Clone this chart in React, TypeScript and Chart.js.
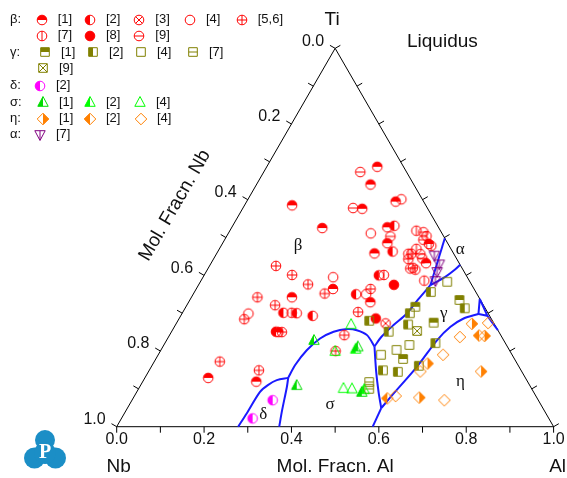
import React, { useEffect, useRef } from 'react';
import { Chart, registerables } from 'chart.js';

Chart.register(...registerables);

// ---- experimental compositions: [x(Al), x(Nb)] ----
const BETA_1 = [[0.253,0.060],[0.261,0.099],[0.341,0.064],[0.274,0.150],[0.109,0.306],[0.208,0.267],[0.356,0.117],[0.377,0.138],[0.361,0.181],[0.313,0.323],[0.230,0.428],[0.416,0.255],[0.245,0.505],[0.145,0.726],[0.260,0.621],[0.473,0.044],[0.492,0.076]];
const BETA_2 = [[0.370,0.099],[0.400,0.137],[0.400,0.200],[0.373,0.277],[0.231,0.468],[0.262,0.438],[0.302,0.405],[0.239,0.510]];
const BETA_3 = [[0.479,0.248]];
const BETA_4 = [[0.351,0.048],[0.326,0.163],[0.298,0.307],[0.396,0.254],[0.152,0.549]];
const BETA_56 = [[0.152,0.423],[0.201,0.398],[0.250,0.374],[0.300,0.348],[0.151,0.507],[0.202,0.477],[0.150,0.566],[0.399,0.237],[0.401,0.296],[0.400,0.358],[0.253,0.497],[0.401,0.399],[0.150,0.678],[0.251,0.600],[0.446,0.097],[0.446,0.111],[0.468,0.112]];
const BETA_7 = [[0.250,0.449],[0.411,0.188],[0.427,0.055],[0.457,0.039],[0.481,0.041],[0.451,0.079],[0.439,0.104],[0.476,0.109],[0.511,0.103]];
const BETA_8 = [[0.447,0.178],[0.450,0.264]];
const BETA_9 = [[0.221,0.106],[0.252,0.170],[0.375,0.122],[0.445,0.041],[0.455,0.051],[0.467,0.077],[0.463,0.119],[0.477,0.078]];
const GAMMA_1 = [[0.525,0.158],[0.617,0.048],[0.588,0.137],[0.566,0.255]];
const GAMMA_2 = [[0.438,0.282],[0.497,0.252],[0.521,0.179],[0.532,0.198],[0.541,0.103],[0.640,0.047],[0.619,0.160],[0.535,0.316],[0.571,0.284],[0.611,0.228]];
const GAMMA_4 = [[0.565,0.052],[0.562,0.222],[0.539,0.258],[0.510,0.300]];
const GAMMA_7 = [[0.519,0.363],[0.528,0.372]];
const GAMMA_9 = [[0.561,0.186]];
const DELTA_2 = [[0.322,0.608],[0.300,0.678]];
const SIGMA_1 = [[0.337,0.434],[0.357,0.533],[0.446,0.342],[0.515,0.393]];
const SIGMA_2 = [[0.444,0.350],[0.517,0.384]];
const SIGMA_4 = [[0.401,0.328],[0.468,0.430],[0.488,0.411],[0.400,0.400]];
const ETA_1 = [[0.654,0.269],[0.628,0.205],[0.677,0.051],[0.761,0.093],[0.722,0.038]];
const ETA_2 = [[0.582,0.343],[0.709,0.050]];
const ETA_4 = [[0.598,0.321],[0.715,0.215],[0.622,0.232],[0.652,0.158],[0.667,0.096],[0.713,0.013]];
const ALPHA_7 = [[0.501,0.047],[0.524,0.047],[0.529,0.062],[0.537,0.078]];

// ---- calculated phase boundaries (liquidus projection), [x(Al), x(Nb)] ----
const B_DELTA_BETA = [[0.278,0.722],[0.280,0.685],[0.282,0.626],[0.291,0.599],[0.305,0.572],[0.328,0.543]];
const B_DELTA_SIGMA = [[0.328,0.543],[0.337,0.558],[0.357,0.600],[0.372,0.628]];
const B_SIGMA_BETA = [[0.328,0.543],[0.327,0.510],[0.334,0.464],[0.349,0.418],[0.371,0.378],[0.398,0.344],[0.422,0.323],[0.452,0.306],[0.484,0.304]];
const B_BETA_GAMMA = [[0.484,0.304],[0.487,0.276],[0.499,0.233],[0.514,0.188],[0.522,0.141],[0.531,0.095]];
const B_ALPHA_BETA = [[0.531,0.095],[0.502,0.0]];
const B_ALPHA_GAMMA = [[0.531,0.095],[0.554,0.050],[0.566,0.020],[0.572,0.0]];
const B_SIGMA_GAMMA = [[0.484,0.304],[0.522,0.334],[0.554,0.355],[0.581,0.370]];
const B_SIGMA_ETA = [[0.581,0.370],[0.586,0.414]];
const B_GAMMA_ETA = [[0.581,0.370],[0.590,0.322],[0.608,0.233],[0.619,0.152],[0.632,0.104],[0.651,0.063],[0.679,0.023]];
const B_SMALL_1 = [[0.662,0.0],[0.679,0.023],[0.702,0.005],[0.662,0.0]];
const B_SMALL_2 = [[0.702,0.005],[0.745,0.0]];

// ---- region labels ----
const REGION_NAMES = ['β', 'α', 'γ', 'η', 'σ', 'δ'];
const REGION_AT = [[0.176,0.346],[0.552,-0.021],[0.599,0.102],[0.727,0.154],[0.459,0.482],[0.320,0.649]];

// ---- axes ----
const TICK_VALUES = [0, 0.1, 0.2, 0.3, 0.4, 0.5, 0.6, 0.7, 0.8, 0.9, 1.0];
const TICK_LABELS = ['0.0', '', '0.2', '', '0.4', '', '0.6', '', '0.8', '', '1.0'];

// geometry of the page
const OX = 116.7, OY = 426.7, SIDE = 436.9, W = 567, H = 478;
const SQ3 = Math.sqrt(3) / 2;
const toXY = (c: number[]) => { const ti = 1 - c[0] - c[1]; return { x: c[0] + ti / 2, y: ti * SQ3 }; };

type Mk = { shape: string; fill: string; deco?: string; color: string };
const MARKERS: Record<string, Mk> = {
  b1: { shape: 'circle', fill: 'top', color: '#ff0000' },
  b2: { shape: 'circle', fill: 'left', color: '#ff0000' },
  b3: { shape: 'circle', fill: 'none', deco: 'x', color: '#ff0000' },
  b4: { shape: 'circle', fill: 'none', color: '#ff0000' },
  b5: { shape: 'circle', fill: 'none', deco: 'plus', color: '#ff0000' },
  b7: { shape: 'circle', fill: 'none', deco: 'v', color: '#ff0000' },
  b8: { shape: 'circle', fill: 'full', color: '#ff0000' },
  b9: { shape: 'circle', fill: 'none', deco: 'h', color: '#ff0000' },
  g1: { shape: 'square', fill: 'top', color: '#808000' },
  g2: { shape: 'square', fill: 'left', color: '#808000' },
  g4: { shape: 'square', fill: 'none', color: '#808000' },
  g7: { shape: 'square', fill: 'none', deco: 'h', color: '#808000' },
  g9: { shape: 'square', fill: 'none', deco: 'x', color: '#808000' },
  d2: { shape: 'circle', fill: 'left', color: '#ff00ff' },
  s1: { shape: 'tri', fill: 'left', color: '#00dd00' },
  s2: { shape: 'tri', fill: 'left', color: '#00ff00' },
  s4: { shape: 'tri', fill: 'none', color: '#00ff00' },
  e1: { shape: 'diamond', fill: 'right', color: '#ff8000' },
  e2: { shape: 'diamond', fill: 'left', color: '#ff8000' },
  e4: { shape: 'diamond', fill: 'none', color: '#ff8000' },
  a7: { shape: 'itri', fill: 'none', deco: 'v', color: '#800080' },
};

function makeMarker(m: Mk): HTMLCanvasElement {
  const S = 14;
  const c = document.createElement('canvas');
  c.width = S; c.height = S;
  const g = c.getContext('2d') as CanvasRenderingContext2D;
  const cx = 7, cy = 7;
  const path = () => {
    g.beginPath();
    if (m.shape === 'circle') g.arc(cx, cy, 4.8, 0, Math.PI * 2);
    else if (m.shape === 'square') g.rect(cx - 4.3, cy - 4.3, 8.6, 8.6);
    else if (m.shape === 'tri') { g.moveTo(cx, cy - 5.5); g.lineTo(cx + 5.2, cy + 4.3); g.lineTo(cx - 5.2, cy + 4.3); g.closePath(); }
    else if (m.shape === 'itri') { g.moveTo(cx - 5.2, cy - 4.3); g.lineTo(cx + 5.2, cy - 4.3); g.lineTo(cx, cy + 5.5); g.closePath(); }
    else if (m.shape === 'diamond') { g.moveTo(cx, cy - 5.8); g.lineTo(cx + 5.8, cy); g.lineTo(cx, cy + 5.8); g.lineTo(cx - 5.8, cy); g.closePath(); }
  };
  g.fillStyle = m.color; g.strokeStyle = m.color; g.lineWidth = 1;
  if (m.fill === 'full') { path(); g.fill(); }
  else if (m.fill !== 'none') {
    g.save(); path(); g.clip();
    if (m.fill === 'top') g.fillRect(0, 0, S, cy);
    if (m.fill === 'left') g.fillRect(0, 0, cx, S);
    if (m.fill === 'right') g.fillRect(cx, 0, S, S);
    g.restore();
  }
  if (m.deco) {
    g.save(); path(); g.clip(); g.beginPath();
    if (m.deco === 'x') { g.moveTo(0, 0); g.lineTo(S, S); g.moveTo(S, 0); g.lineTo(0, S); }
    if (m.deco === 'plus') { g.moveTo(0, cy); g.lineTo(S, cy); g.moveTo(cx, 0); g.lineTo(cx, S); }
    if (m.deco === 'v') { g.moveTo(cx, 0); g.lineTo(cx, S); }
    if (m.deco === 'h') { g.moveTo(0, cy); g.lineTo(S, cy); }
    g.stroke(); g.restore();
  }
  path(); g.stroke();
  return c;
}

const LEGEND_ROWS: { y: number; label: string; items: [string, number, string][] }[] = [
  { y: 19.5, label: 'β:', items: [['b1', 41.7, '[1]'], ['b2', 90, '[2]'], ['b3', 139.3, '[3]'], ['b4', 190, '[4]'], ['b5', 241.7, '[5,6]']] },
  { y: 35.8, label: '', items: [['b7', 41.7, '[7]'], ['b8', 90, '[8]'], ['b9', 139.3, '[9]']] },
  { y: 52.1, label: 'γ:', items: [['g1', 45, '[1]'], ['g2', 93, '[2]'], ['g4', 141, '[4]'], ['g7', 193, '[7]']] },
  { y: 68.4, label: '', items: [['g9', 43, '[9]']] },
  { y: 85.5, label: 'δ:', items: [['d2', 40, '[2]']] },
  { y: 102.3, label: 'σ:', items: [['s1', 43, '[1]'], ['s2', 90, '[2]'], ['s4', 140, '[4]']] },
  { y: 118.8, label: 'η:', items: [['e1', 43, '[1]'], ['e2', 90, '[2]'], ['e4', 141, '[4]']] },
  { y: 134.5, label: 'α:', items: [['a7', 40, '[7]']] },
];

export default function App() {
  const ref = useRef<HTMLCanvasElement | null>(null);
  useEffect(() => {
    const canvas = ref.current;
    if (!canvas) return;
    const imgs: Record<string, HTMLCanvasElement> = {};
    Object.keys(MARKERS).forEach((k) => { imgs[k] = makeMarker(MARKERS[k]); });

    const markerSet = (key: string, arr: number[][]) => ({
      data: arr.map(toXY), pointStyle: imgs[key] as any, pointRadius: 5, showLine: false,
    });
    const lineSet = (arr: number[][], tension = 0.3) => ({
      data: arr.map(toXY), showLine: true, borderColor: '#1a1aff', borderWidth: 2,
      pointRadius: 0, tension, fill: false,
    });

    const decor = {
      id: 'ternaryDecor',
      afterDraw(chart: any) {
        const ctx: CanvasRenderingContext2D = chart.ctx;
        const xs = chart.scales.x, ys = chart.scales.y;
        const P = (al: number, nb: number) => { const p = toXY([al, nb]); return [xs.getPixelForValue(p.x), ys.getPixelForValue(p.y)]; };
        ctx.save();
        ctx.strokeStyle = '#000'; ctx.lineWidth = 1; ctx.fillStyle = '#111';
        // ticks
        ctx.beginPath();
        TICK_VALUES.forEach((v) => {
          let [px, py] = P(v, 1 - v); ctx.moveTo(px, py); ctx.lineTo(px, py + 6);
          [px, py] = P(0, v); ctx.moveTo(px, py); ctx.lineTo(px - 5.2, py - 3);
          [px, py] = P(1 - v, 0); ctx.moveTo(px, py); ctx.lineTo(px + 5.2, py - 3);
        });
        ctx.stroke();
        ctx.font = '16px "Liberation Sans", Arial, sans-serif';
        TICK_VALUES.forEach((v, i) => {
          const lab = TICK_LABELS[i];
          if (!lab) return;
          let [px, py] = P(v, 1 - v);
          ctx.textAlign = 'center'; ctx.textBaseline = 'middle';
          ctx.fillText(lab, px, py + 13);
          [px, py] = P(0, v);
          ctx.textAlign = 'right';
          ctx.fillText(lab, px - 11, py - 7);
        });
        // axis titles
        ctx.font = '19px "Liberation Sans", Arial, sans-serif';
        ctx.textAlign = 'center'; ctx.textBaseline = 'middle';
        let [ax, ay] = P(0, 0); ctx.fillText('Ti', ax - 3, ay - 29);
        [ax, ay] = P(0, 1); ctx.fillText('Nb', ax + 2, ay + 40);
        [ax, ay] = P(1, 0); ctx.fillText('Al', ax + 4, ay + 40);
        [ax, ay] = P(0.5, 0.5); ctx.fillText('Mol. Fracn. Al', ax, ay + 40);
        [ax, ay] = P(0, 0.5);
        ctx.save(); ctx.translate(ax - 51, ay - 32); ctx.rotate(-Math.PI / 3);
        ctx.fillText('Mol. Fracn. Nb', 0, 0); ctx.restore();
        ctx.textAlign = 'left';
        ctx.fillText('Liquidus', 407, 42);
        // region labels
        ctx.font = '17px "Liberation Serif", "Times New Roman", serif';
        ctx.textAlign = 'center';
        REGION_NAMES.forEach((n, i) => { const [rx, ry] = P(REGION_AT[i][0], REGION_AT[i][1]); ctx.fillText(n, rx, ry); });
        // legend
        ctx.font = '13px "Liberation Sans", Arial, sans-serif';
        LEGEND_ROWS.forEach((row) => {
          ctx.textAlign = 'left';
          if (row.label) ctx.fillText(row.label, 10, row.y);
          row.items.forEach(([k, mx, t]) => {
            const im = imgs[k];
            ctx.drawImage(im, Math.round(mx - im.width / 2), Math.round(row.y - im.height / 2));
            ctx.fillText(t, mx + 16, row.y);
          });
        });
        // logo
        const lx = 45, ly = 450;
        ctx.fillStyle = '#1b8ec6';
        const circ = (cx: number, cy: number, r: number) => { ctx.beginPath(); ctx.arc(cx, cy, r, 0, Math.PI * 2); ctx.fill(); };
        circ(lx, ly - 10, 10); circ(lx - 10.5, ly + 8, 10.5); circ(lx + 10.5, ly + 8, 10.5); circ(lx, ly + 3, 11);
        ctx.fillStyle = '#fff';
        ctx.font = 'bold 20px "Liberation Serif", serif';
        ctx.textAlign = 'center';
        ctx.fillText('P', lx, ly + 3);
        ctx.restore();
      },
    };

    const chart = new Chart(canvas, {
      type: 'scatter',
      data: {
        datasets: [
          markerSet('a7', ALPHA_7), markerSet('e1', ETA_1), markerSet('e2', ETA_2), markerSet('e4', ETA_4),
          markerSet('s1', SIGMA_1), markerSet('s2', SIGMA_2), markerSet('s4', SIGMA_4), markerSet('d2', DELTA_2),
          markerSet('g1', GAMMA_1), markerSet('g2', GAMMA_2), markerSet('g4', GAMMA_4), markerSet('g7', GAMMA_7), markerSet('g9', GAMMA_9),
          markerSet('b1', BETA_1), markerSet('b2', BETA_2), markerSet('b3', BETA_3), markerSet('b4', BETA_4),
          markerSet('b5', BETA_56), markerSet('b7', BETA_7), markerSet('b8', BETA_8), markerSet('b9', BETA_9),
          lineSet(B_DELTA_BETA), lineSet(B_DELTA_SIGMA), lineSet(B_SIGMA_BETA), lineSet(B_BETA_GAMMA),
          lineSet(B_ALPHA_BETA, 0), lineSet(B_ALPHA_GAMMA), lineSet(B_SIGMA_GAMMA), lineSet(B_SIGMA_ETA, 0),
          lineSet(B_GAMMA_ETA), lineSet(B_SMALL_1, 0), lineSet(B_SMALL_2, 0),
          { data: [[0, 1], [1, 0], [0, 0], [0, 1]].map(toXY), showLine: true, borderColor: '#000', borderWidth: 1, pointRadius: 0, tension: 0 },
        ] as any,
      },
      options: {
        responsive: false,
        animation: false,
        events: [],
        layout: { padding: 0, autoPadding: false },
        scales: {
          x: { type: 'linear', display: false, min: -OX / SIDE, max: (W - OX) / SIDE },
          y: { type: 'linear', display: false, min: -(H - OY) / SIDE, max: OY / SIDE },
        },
        plugins: { legend: { display: false }, tooltip: { enabled: false } },
      } as any,
      plugins: [decor],
    });
    return () => chart.destroy();
  }, []);

  return (
    <div style={{ position: 'fixed', left: 0, top: 0, width: W, height: H, background: '#fff' }}>
      <canvas ref={ref} width={W} height={H} style={{ display: 'block' }} />
    </div>
  );
}
